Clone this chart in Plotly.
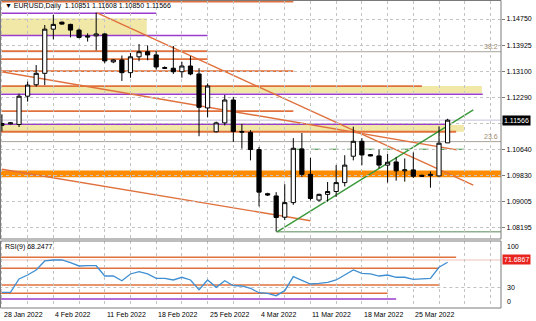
import plotly.graph_objects as go

# ---------------- data ----------------
dates = ["28 Jan", "30 Jan", "31 Jan", "1 Feb", "2 Feb", "3 Feb", "4 Feb",
         "6 Feb", "7 Feb", "8 Feb", "9 Feb", "10 Feb", "11 Feb",
         "13 Feb", "14 Feb", "15 Feb", "16 Feb", "17 Feb", "18 Feb",
         "20 Feb", "21 Feb", "22 Feb", "23 Feb", "24 Feb", "25 Feb",
         "27 Feb", "28 Feb", "1 Mar", "2 Mar", "3 Mar", "4 Mar",
         "6 Mar", "7 Mar", "8 Mar", "9 Mar", "10 Mar", "11 Mar",
         "13 Mar", "14 Mar", "15 Mar", "16 Mar", "17 Mar", "18 Mar",
         "20 Mar", "21 Mar", "22 Mar", "23 Mar", "24 Mar", "25 Mar",
         "27 Mar", "28 Mar", "29 Mar", "30 Mar"]

open_ = [1.1140, 1.1145, 1.1143, 1.1232, 1.1268, 1.1304, 1.1443,
         1.1465, 1.1458, 1.1440, 1.1418, 1.1422, 1.1428,
         1.1340, 1.1346, 1.1306, 1.1356, 1.1372, 1.1362,
         1.1322, 1.1320, 1.1309, 1.1327, 1.1302, 1.1195,
         1.1120, 1.1148, 1.1220, 1.1121, 1.1118, 1.1064,
         1.0925, 1.0918, 1.0851, 1.0897, 1.1066, 1.0986,
         1.0905, 1.0923, 1.0932, 1.0960, 1.1043, 1.1090,
         1.1048, 1.1044, 1.1015, 1.1025, 1.0997, 1.1000,
         1.0983, 1.0982, 1.0981, 1.10851]
high = [1.1175, 1.1150, 1.1240, 1.1278, 1.1330, 1.1456, 1.1488,
        1.1467, 1.1460, 1.1445, 1.1430, 1.1495, 1.1430,
        1.1348, 1.1360, 1.1368, 1.1396, 1.1392, 1.1374,
        1.1326, 1.1390, 1.1340, 1.1358, 1.1320, 1.1272,
        1.1152, 1.1236, 1.1230, 1.1145, 1.1125, 1.1072,
        1.0928, 1.0930, 1.0955, 1.1100, 1.1116, 1.1038,
        1.0925, 1.0962, 1.1015, 1.1046, 1.1136, 1.1100,
        1.1050, 1.1064, 1.1050, 1.1040, 1.1036, 1.1055,
        1.0985, 1.0995, 1.1137, 1.11608]
low = [1.1121, 1.1143, 1.1135, 1.1215, 1.1262, 1.1267, 1.1411,
       1.1457, 1.1417, 1.1414, 1.1404, 1.1376, 1.1336,
       1.1336, 1.1280, 1.1290, 1.1342, 1.1345, 1.1316,
       1.1318, 1.1302, 1.1290, 1.1298, 1.1106, 1.1166,
       1.1118, 1.1140, 1.1088, 1.1067, 1.1030, 1.0885,
       1.0918, 1.0806, 1.0842, 1.0890, 1.0978, 1.0904,
       1.0900, 1.0900, 1.0915, 1.0948, 1.1030, 1.1015,
       1.1043, 1.1005, 1.0960, 1.0966, 1.0963, 1.0975,
       1.0979, 1.0944, 1.0979, 1.10850]
close = [1.1146, 1.1148, 1.1232, 1.1267, 1.1304, 1.1443, 1.1458,
         1.1459, 1.1440, 1.1417, 1.1421, 1.1428, 1.1343,
         1.1346, 1.1306, 1.1356, 1.1372, 1.1362, 1.1324,
         1.1320, 1.1309, 1.1327, 1.1302, 1.1197, 1.1264,
         1.1148, 1.1220, 1.1121, 1.1119, 1.1064, 1.0930,
         1.0921, 1.0850, 1.0897, 1.1068, 1.0986, 1.0910,
         1.0923, 1.0932, 1.0960, 1.1015, 1.1090, 1.1047,
         1.1044, 1.1015, 1.1024, 1.0997, 1.1000, 1.0980,
         1.0980, 1.0986, 1.1084, 1.11566]

rsi = [22.7, 22.7, 42.9, 48.9, 56.5, 70.2, 71.7,
       71.7, 67.6, 62.6, 63.0, 63.0, 47.4,
       47.4, 40.3, 50.5, 53.9, 50.5, 43.9,
       43.9, 41.4, 45.5, 41.4, 26.7, 41.4,
       30.3, 40.3, 32.7, 32.3, 28.8, 22.1,
       21.2, 17.6, 25.2, 46.4, 41.4, 35.3,
       36.4, 37.9, 41.4, 48.9, 56.5, 51.5,
       50.5, 47.4, 48.9, 45.5, 45.5, 42.4,
       42.9, 43.9, 60.6, 68.2477]

# price-axis labels (grid levels); the 1.11465 label sits under the price box
price_ticks = [1.14750, 1.13925, 1.13100, 1.12290, 1.11465,
               1.10640, 1.09830, 1.09005, 1.08195]
price_tick_text = ["1.14750", "1.13925", "1.13100", "1.12290", "",
                   "1.10640", "1.09830", "1.09005", "1.08195"]
date_label_text = ["28 Jan 2022", "4 Feb 2022", "11 Feb 2022", "18 Feb 2022",
                   "25 Feb 2022", "4 Mar 2022", "11 Mar 2022", "18 Mar 2022",
                   "25 Mar 2022"]
date_label_bar = ["28 Jan", "4 Feb", "11 Feb", "18 Feb", "25 Feb",
                  "4 Mar", "11 Mar", "18 Mar", "25 Mar"]

# drawn objects (levels in price, extent in bars)
orange_levels = [1.1530, 1.1374, 1.1349, 1.1311, 1.1264, 1.1185, 1.1120]
orange_last_bar = [34, 24, 24, 34, 49, 34, 53]
purple_levels = [1.1493, 1.1423, 1.1238, 1.11435]
purple_last_bar = [18, 24, 56.1, 52]
zone_low = [1.1425, 1.1241, 1.1120]
zone_high = [1.1477, 1.1264, 1.1141]
zone_last_bar = [16.9, 56, 53.9]
fibo_levels = [1.1372, 1.1089]
fibo_names = ["38.2", "23.6"]
band_low, band_high = 1.0977, 1.0998
green_dash_level, green_dash_bars = 1.1065, (34, 55)
green_floor_level, green_floor_first = 1.0805, 32
trend_x0 = [11.1, -0.3, 0.0, 32.1]
trend_y0 = [1.1494, 1.1310, 1.1002, 1.0805]
trend_x1 = [55.0, 53.1, 36.0, 55.0]
trend_y1 = [1.0952, 1.1063, 1.0840, 1.1189]
trend_kind = ["orange", "orange", "orange", "green"]

rsi_orange_levels = [75.8, 59.1, 33.8, 21.2]
rsi_orange_last_bar = [53, 51, 51, 45]
rsi_purple_level, rsi_purple_last_bar = 12.6, 46
rsi_marker_level = 71.6867

# ---------------- layout geometry ----------------
W, H = 536, 321
n = len(dates)
xs = list(range(n))
bar_of = {d: i for i, d in enumerate(dates)}
BAR_PX = 8.571
X0_PX = 1.9
PLOT_RIGHT = 501
x_range = [(0 - X0_PX) / BAR_PX, (PLOT_RIGHT - X0_PX) / BAR_PX]
RIGHT_BAR = x_range[1] + 1

PX_PER_PRICE = 1 / 0.0003148
def price_at(ypx):
    return 1.14750 - (ypx - 19) / PX_PER_PRICE

main_top_px, main_bot_px = 1, 239
rsi_top_px, rsi_bot_px = 241.3, 307.3

ORANGE = "#e0703c"
PURPLE = "#9a3ccc"
ZONE = "#f1e7a6"
FONT = "Liberation Sans"

fig = go.Figure()

fig.add_trace(go.Candlestick(
    x=xs, open=open_, high=high, low=low, close=close,
    increasing=dict(line=dict(color="black", width=1), fillcolor="white"),
    decreasing=dict(line=dict(color="black", width=1), fillcolor="black"),
    whiskerwidth=0, showlegend=False, hoverinfo="skip",
    xaxis="x", yaxis="y"))

fig.add_trace(go.Scatter(
    x=xs, y=rsi, mode="lines", line=dict(color="#3f8fd2", width=1.3),
    showlegend=False, hoverinfo="skip", xaxis="x", yaxis="y2"))

shapes = []
def hline(y0, x0, x1, color, width, yref="y", dash="solid"):
    shapes.append(dict(type="line", xref="x", yref=yref, x0=x0, x1=x1,
                       y0=y0, y1=y0, line=dict(color=color, width=width, dash=dash),
                       layer="below"))

# zones and band (below everything)
for lo, hi, e in zip(zone_low, zone_high, zone_last_bar):
    shapes.append(dict(type="rect", xref="x", yref="y", x0=-1, x1=e, y0=lo, y1=hi,
                       fillcolor=ZONE, line=dict(width=0), layer="below"))
shapes.append(dict(type="rect", xref="x", yref="y", x0=-1, x1=RIGHT_BAR,
                   y0=band_low, y1=band_high, fillcolor="#ff8c00",
                   line=dict(width=0), layer="below"))
# fibo + bid line
for lv in fibo_levels:
    hline(lv, -1, RIGHT_BAR, "#a9a29a", 1)
hline(close[-1], -1, RIGHT_BAR, "#c8c0dc", 1)
# horizontal levels
for lv, e in zip(orange_levels, orange_last_bar):
    hline(lv, -1, e, ORANGE, 1.8)
for lv, e in zip(purple_levels, purple_last_bar):
    hline(lv, -1, e, PURPLE, 1.5)
hline(green_dash_level, green_dash_bars[0], green_dash_bars[1], "#2e8b2e", 1.2, dash="dash")
hline(green_floor_level, green_floor_first, RIGHT_BAR, "#8fb08f", 1.5)
# trend lines
for a, b, c, d, k in zip(trend_x0, trend_y0, trend_x1, trend_y1, trend_kind):
    shapes.append(dict(type="line", xref="x", yref="y", x0=a, y0=b, x1=c, y1=d,
                       line=dict(color=ORANGE if k == "orange" else "#3a9a3a", width=1.4),
                       layer="below"))
# RSI objects
hline(rsi_marker_level, -1, RIGHT_BAR, "#f0c0b8", 1, yref="y2")
hline(30, -1, RIGHT_BAR, "#c0c0c0", 1, yref="y2", dash="dot")
for lv, e in zip(rsi_orange_levels, rsi_orange_last_bar):
    hline(lv, -1, e, ORANGE, 1.6, yref="y2")
hline(rsi_purple_level, -1, rsi_purple_last_bar, PURPLE, 1.5, yref="y2")

# panel frames
def prect(x0, y0, x1, y1):
    shapes.append(dict(type="rect", xref="paper", yref="paper",
                       x0=x0 / W, x1=x1 / W, y0=1 - y1 / H, y1=1 - y0 / H,
                       line=dict(color="#7a7a7a", width=1), fillcolor="rgba(0,0,0,0)",
                       layer="above"))
prect(0.5, 0.5, PLOT_RIGHT, main_bot_px)
prect(0.5, 241, PLOT_RIGHT, 308)

annotations = []
def ann(text, x, y, xref="paper", yref="paper", xanchor="left", yanchor="middle",
        color="black", size=7, bg=None):
    d = dict(text=text, x=x, y=y, xref=xref, yref=yref, xanchor=xanchor,
             yanchor=yanchor, showarrow=False,
             font=dict(family=FONT, size=size, color=color))
    if bg:
        d.update(bgcolor=bg, borderpad=1)
    annotations.append(d)

ann("▼ EURUSD,Daily  1.10851 1.11608 1.10850 1.11566", 3 / W, 1 - 6 / H, size=7)
ann("RSI(9) 68.2477", 3 / W, 1 - 247 / H, size=7)
for lv, nm in zip(fibo_levels, fibo_names):
    ann(nm, (PLOT_RIGHT - 1) / W, lv, yref="y",
        xanchor="right", yanchor="bottom", color="#a08a70", size=7)
# current price box
ann(f"{close[-1]:.5f}", 502 / W, close[-1], yref="y", color="white", bg="black", size=7)
# RSI axis labels
ann("100", 505 / W, 100, yref="y2", yanchor="top", size=7)
ann("30", 505 / W, 30, yref="y2", size=7)
ann("0", 505 / W, 0, yref="y2", yanchor="bottom", size=7)
ann(f"{rsi_marker_level:.4f}", 502 / W, rsi_marker_level, yref="y2",
    color="white", bg="#e8241f", size=7)
# date labels
for t, d in zip(date_label_text, date_label_bar):
    ann(t, bar_of[d], 1 - 314.5 / H, xref="x", size=7)

fig.update_layout(
    width=W, height=H, margin=dict(l=0, r=0, t=0, b=0),
    paper_bgcolor="white", plot_bgcolor="white",
    shapes=shapes, annotations=annotations, showlegend=False,
    xaxis=dict(domain=[0, PLOT_RIGHT / W], range=x_range, anchor="y2",
               tickvals=list(range(0, 60, 3)), showticklabels=False, ticks="",
               showgrid=True, gridcolor="#c4c4c4", griddash="dot", gridwidth=1,
               zeroline=False, rangeslider=dict(visible=False), fixedrange=True),
    yaxis=dict(domain=[1 - main_bot_px / H, 1 - main_top_px / H],
               range=[price_at(main_bot_px), price_at(main_top_px)],
               anchor="x", side="right", tickvals=price_ticks, ticktext=price_tick_text,
               ticks="outside", ticklen=3, tickcolor="#7a7a7a",
               tickfont=dict(family=FONT, size=7, color="black"),
               showgrid=True, gridcolor="#c4c4c4", griddash="dot", gridwidth=1,
               zeroline=False, fixedrange=True),
    yaxis2=dict(domain=[1 - rsi_bot_px / H, 1 - rsi_top_px / H], range=[0, 100],
                anchor="x", side="right", showticklabels=False, ticks="",
                showgrid=False, zeroline=False, fixedrange=True),
)

fig.write_html("out.html")
